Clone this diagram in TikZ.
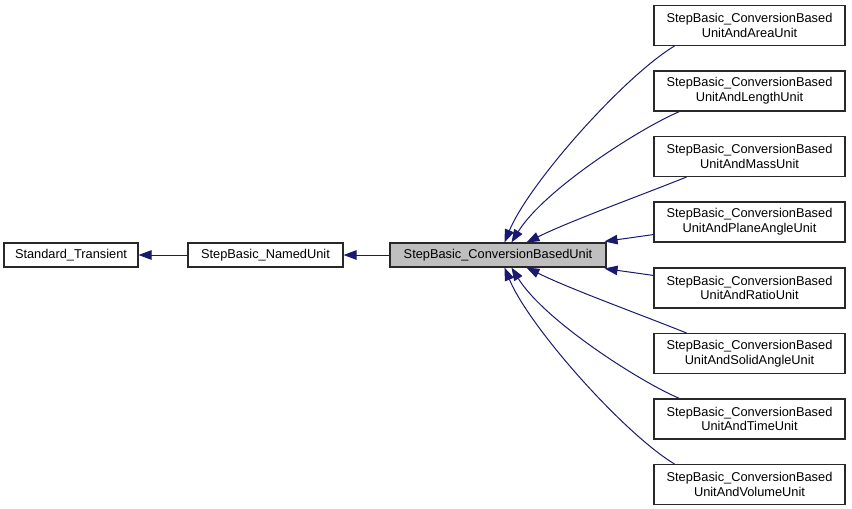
\documentclass[tikz,border=0pt]{standalone}
\usepackage{fontspec}
\setmainfont{Liberation Sans}
\usetikzlibrary{arrows.meta}
\definecolor{edgeblue}{RGB}{25,25,112}
\definecolor{boxgray}{RGB}{191,191,191}
\definecolor{boxline}{RGB}{40,40,40}
\begin{document}
\begin{tikzpicture}[x=1pt,y=-1pt,
  box/.style={draw=boxline, line width=1.1pt, fill=white, inner sep=0pt, align=center,
    font=\fontsize{12.8}{14.7}\selectfont},
  onebox/.style={box, minimum height=24pt},
  twobox/.style={box, minimum width=191pt, minimum height=40pt},
  inh/.style={draw=edgeblue, line width=1pt,
    {Triangle[length=13pt,width=9.5pt,fill=edgeblue]}-}
]
\useasboundingbox (0,0) rectangle (852,509);

\node[onebox, minimum width=134pt] (st) at (71,255) {Standard\_Transient};
\node[onebox, minimum width=155pt] (nu) at (265.5,255) {StepBasic\_NamedUnit};
\node[onebox, minimum width=216pt, fill=boxgray] (c) at (498,255) {StepBasic\_ConversionBasedUnit};

\node[twobox] (r1) at (749.5,25.5)  {StepBasic\_ConversionBased\\UnitAndAreaUnit};
\node[twobox] (r2) at (749.5,91)    {StepBasic\_ConversionBased\\UnitAndLengthUnit};
\node[twobox] (r3) at (749.5,156.5) {StepBasic\_ConversionBased\\UnitAndMassUnit};
\node[twobox] (r4) at (749.5,222)   {StepBasic\_ConversionBased\\UnitAndPlaneAngleUnit};
\node[twobox] (r5) at (749.5,288)   {StepBasic\_ConversionBased\\UnitAndRatioUnit};
\node[twobox] (r6) at (749.5,353.5) {StepBasic\_ConversionBased\\UnitAndSolidAngleUnit};
\node[twobox] (r7) at (749.5,419)   {StepBasic\_ConversionBased\\UnitAndTimeUnit};
\node[twobox] (r8) at (749.5,484.5) {StepBasic\_ConversionBased\\UnitAndVolumeUnit};

\draw[inh] (st.east) -- (nu.west);
\draw[inh] (nu.east) -- (c.west);

% upper edges
\draw[inh] ([shift={(115,0)}]c.north west) .. controls +(25,-60) and +(-50,30) .. ([shift={(21,0)}]r1.south west);
\draw[inh] ([shift={(122,0)}]c.north west) .. controls +(33,-53) and +(-40,17) .. ([shift={(26,0)}]r2.south west);
\draw[inh] ([shift={(137,0)}]c.north west) .. controls +(45,-22) and +(-50,20) .. ([shift={(33,0)}]r3.south west);
\draw[inh] ([shift={(-2,-1)}]c.north east) -- ([shift={(0,-8)}]r4.south west);

% lower edges
\draw[inh] ([shift={(-2,1)}]c.south east) -- ([shift={(0,8)}]r5.north west);
\draw[inh] ([shift={(137,0)}]c.south west) .. controls +(45,22) and +(-50,-20) .. ([shift={(33,0)}]r6.north west);
\draw[inh] ([shift={(122,0)}]c.south west) .. controls +(33,53) and +(-40,-17) .. ([shift={(26,0)}]r7.north west);
\draw[inh] ([shift={(115,0)}]c.south west) .. controls +(25,60) and +(-50,-30) .. ([shift={(21,0)}]r8.north west);
\end{tikzpicture}
\end{document}
